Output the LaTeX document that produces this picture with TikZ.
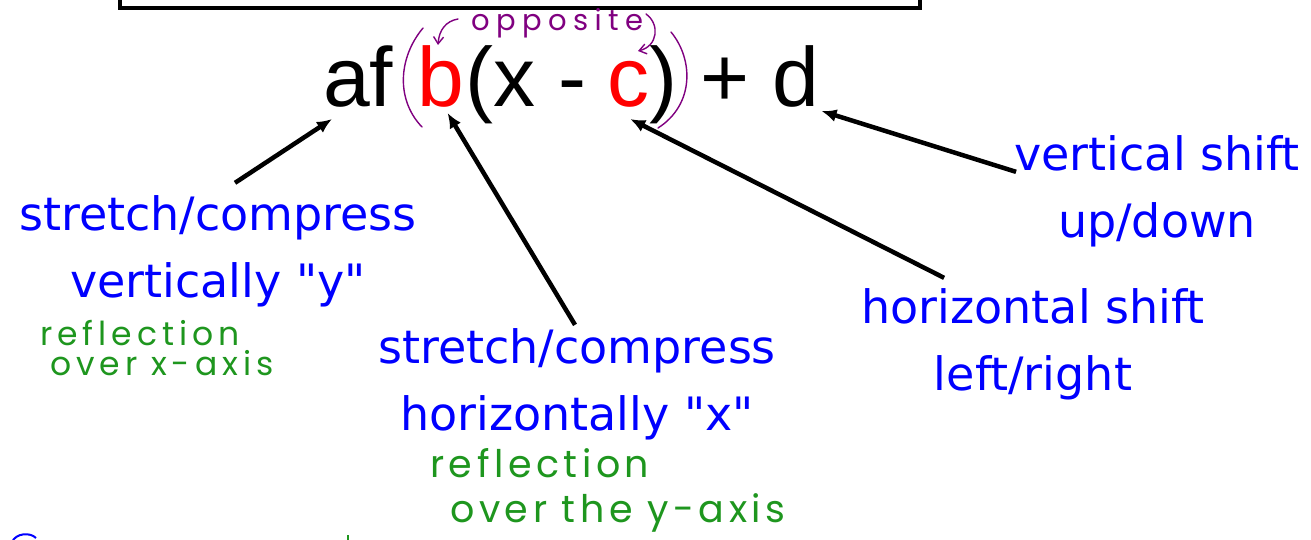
\documentclass[tikz,border=0pt]{standalone}
\usepackage{fontspec}
\usepackage{xcolor}
\usepackage{tikz}
\usetikzlibrary{arrows.meta}
\setmainfont{Liberation Sans}
\newfontfamily\notefont{DejaVu Sans}
\newfontfamily\handfont{Poppins}
\definecolor{notered}{HTML}{FF0000}
\definecolor{noteblue}{HTML}{0000FF}
\definecolor{inkgreen}{HTML}{1E961E}
\definecolor{inkpurple}{HTML}{800080}

\tikzset{
  term/.style={anchor=base west, inner sep=0pt, font=\fontsize{84}{84}\selectfont},
  note/.style={anchor=base, inner sep=0pt, align=center, text=noteblue,
    font=\notefont\fontsize{46}{67}\selectfont},
  hand/.style={anchor=base west, inner sep=0pt, align=left, text=inkgreen},
  pointer/.style={line width=4.5pt, -{Latex[length=15pt,width=13pt]}},
  ink/.style={draw=inkpurple, line width=1.4pt, line cap=round}
}

\begin{document}
\begin{tikzpicture}[x=1pt,y=-1pt]
  \clip (0,0) rectangle (1311,540);
  \fill[white] (0,0) rectangle (1311,540);
  \draw[line width=4pt] (120,-20) rectangle (920,8);

  \node[term] (af) at (323,107) {af};
  \node[term, text=notered] (b) at (417,107) {b};
  \node[term] (xm) at (465,107) {(x -};
  \node[term, text=notered] (c) at (607,107) {c};
  \node[term] (rp) at (649,107) {)};
  \node[term] (pd) at (700,107) {+ d};

  \draw[ink] (423,28) .. controls (398,58) and (396,100) .. (422,127);
  \draw[ink] (671,32) .. controls (694,60) and (694,105) .. (658,128);
  \node[anchor=base west, inner sep=0pt, text=inkpurple,
    font={\handfont\fontsize{29}{29}\selectfont\addfontfeature{LetterSpace=22}}]
    (opp) at (471,31) {opposite};
  \draw[ink, -{Straight Barb[length=7pt,width=10pt]}] (458,19) .. controls (446,21) and (439,30) .. (438,45);
  \draw[ink, -{Straight Barb[length=7pt,width=10pt]}] (646,14) .. controls (660,24) and (658,46) .. (638,51);

  \node[note] (vy) at (218,297) {stretch/compress\\vertically "y"};
  \node[note] (hx) at (577,430) {stretch/compress\\horizontally "x"};
  \node[note] (hs) at (1033,390) {horizontal shift\\left/right};
  \node[note] (vs) at (1157,237) {vertical shift\\up/down};

  \node[hand, font={\handfont\fontsize{33}{30}\selectfont\addfontfeature{LetterSpace=15}}]
    (rx) at (40,375) {reflection\\\hspace*{10pt}over x-axis};
  \node[hand, font={\handfont\fontsize{38}{45}\selectfont\addfontfeature{LetterSpace=12}}]
    (ry) at (430,522) {reflection\\\hspace*{20pt}over the y-axis};

  \draw[pointer] ([xshift=17pt,yshift=12pt]vy.north) -- ([xshift=9pt,yshift=-11pt]af.south west);
  \draw[pointer] ([xshift=-2pt,yshift=3pt]hx.north) -- ([xshift=7pt,yshift=-5pt]b.south);
  \draw[pointer] ([xshift=83pt,yshift=10pt]hs.north west) -- ([xshift=2pt,yshift=-11pt]c.south);
  \draw[pointer] ([xshift=2pt,yshift=-37pt]vs.north west) -- ([xshift=2pt,yshift=-3pt]pd.south east);

  \draw[noteblue, line width=2pt] (12,542) .. controls (16,533) and (30,532) .. (36,538);
  \draw[inkgreen, line width=1.5pt] (348,535) -- (348,542);
\end{tikzpicture}
\end{document}
